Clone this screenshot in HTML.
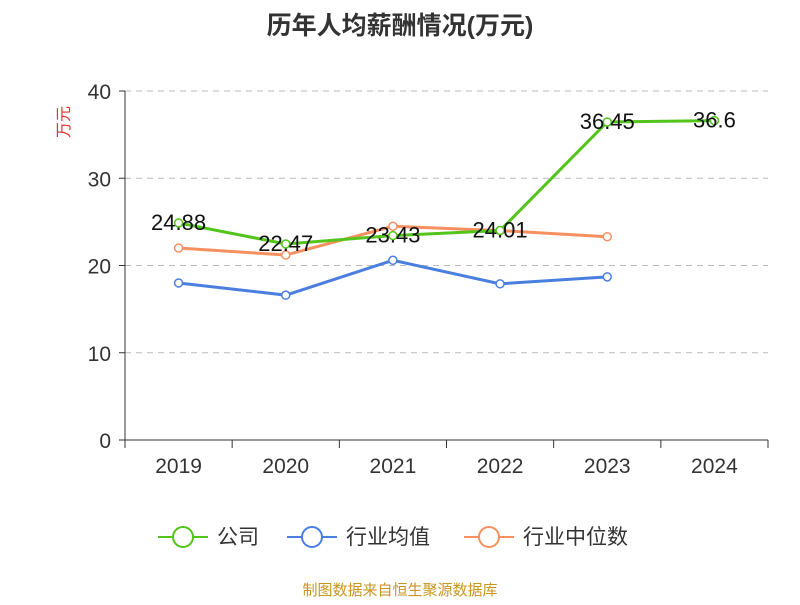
<!DOCTYPE html>
<html><head><meta charset="utf-8"><style>
body{margin:0;background:#fff;font-family:"Liberation Sans","Noto Sans CJK SC",sans-serif;}
</style></head><body>
<svg width="800" height="600" xmlns="http://www.w3.org/2000/svg" font-family="Liberation Sans, Noto Sans CJK SC, sans-serif">
<text x="400" y="34" text-anchor="middle" font-size="25" font-weight="bold" fill="#333">历年人均薪酬情况(万元)</text>
<text x="0" y="0" transform="translate(69,122) rotate(-90)" text-anchor="middle" font-size="16" fill="#e0302a">万元</text>
<g id="grid"></g><g id="axes"></g><g id="series"></g>
<g font-size="21" fill="#333">
<g><line x1="158" y1="537" x2="208" y2="537" stroke="#52c41a" stroke-width="2"/><circle cx="183" cy="537" r="10" fill="#fff" stroke="#52c41a" stroke-width="2"/><text x="217" y="544">公司</text></g>
<g><line x1="287" y1="537" x2="337" y2="537" stroke="#4a7fe0" stroke-width="2"/><circle cx="312" cy="537" r="10" fill="#fff" stroke="#4a7fe0" stroke-width="2"/><text x="346" y="544">行业均值</text></g>
<g><line x1="464" y1="537" x2="514" y2="537" stroke="#f79060" stroke-width="2"/><circle cx="489" cy="537" r="10" fill="#fff" stroke="#f79060" stroke-width="2"/><text x="523" y="544">行业中位数</text></g>
</g>
<text x="400" y="595" text-anchor="middle" font-size="15" fill="#c8961e">制图数据来自恒生聚源数据库</text>
</svg>
<script>
const categories=["2019","2020","2021","2022","2023","2024"];
const companyValues=[24.88,22.47,23.43,24.01,36.45,36.6];
const meanValues=[18.0,16.6,20.6,17.9,18.7];
const medianValues=[22.0,21.2,24.5,24.0,23.3];
const yTicks=[0,10,20,30,40];
const NS="http://www.w3.org/2000/svg";
const x0=125,x1=768,yBase=440,yTop=91;
const band=(x1-x0)/categories.length;
const xs=i=>x0+band*(i+0.5);
const ys=v=>yBase-(v/40)*(yBase-yTop);
function mk(tag,attrs,parent,txt){const e=document.createElementNS(NS,tag);for(const k in attrs)e.setAttribute(k,attrs[k]);if(txt!==undefined)e.textContent=txt;parent.appendChild(e);return e;}
const grid=document.getElementById('grid'),axes=document.getElementById('axes'),series=document.getElementById('series');
yTicks.forEach(t=>{const y=ys(t);
 if(t>0){const g=mk('line',{x1:x0,x2:x1,y1:y,y2:y,stroke:'#bbb','stroke-dasharray':'6,5'},grid);
 
 }
 const tk=mk('line',{x1:x0-6,x2:x0,y1:y,y2:y,stroke:'#333'},axes);
 
 
 const l=mk('text',{x:x0-14,y:y+8,'text-anchor':'end','font-size':'21',fill:'#333'},axes,String(t));
 
 
});
const ya=mk('line',{x1:x0,x2:x0,y1:yTop,y2:yBase,stroke:'#333'},axes);


const xa=mk('line',{x1:x0,x2:x1,y1:yBase,y2:yBase,stroke:'#333'},axes);


for(let i=0;i<=categories.length;i++){const x=x0+band*i;
 const tk=mk('line',{x1:x,x2:x,y1:yBase,y2:yBase+8,stroke:'#333'},axes);
 
 }
categories.forEach((c,i)=>{const l=mk('text',{x:xs(i),y:473,'text-anchor':'middle','font-size':'21',fill:'#333'},axes,c);
 
 });
function drawSeries(vals,color,name,labels){
 const g=mk('g',{},series);
 
 
 const pts=vals.map((v,i)=>xs(i)+','+ys(v)).join(' ');
 const pl=mk('polyline',{points:pts,fill:'none',stroke:color,'stroke-width':3},g);
 
 
 vals.forEach((v,i)=>{const c=mk('circle',{cx:xs(i),cy:ys(v),r:4,fill:'#fff',stroke:color,'stroke-width':1.5},g);
  
  
  if(labels){const t=mk('text',{x:xs(i),y:ys(v)+7,'text-anchor':'middle','font-size':'22',fill:'#111'},g,String(v));
   
   }
 });
}
drawSeries(meanValues,'#4a7fe0','industry-mean-series',false);
drawSeries(medianValues,'#f79060','industry-median-series',false);
drawSeries(companyValues,'#52c41a','company-series',true);
</script>
</body></html>
